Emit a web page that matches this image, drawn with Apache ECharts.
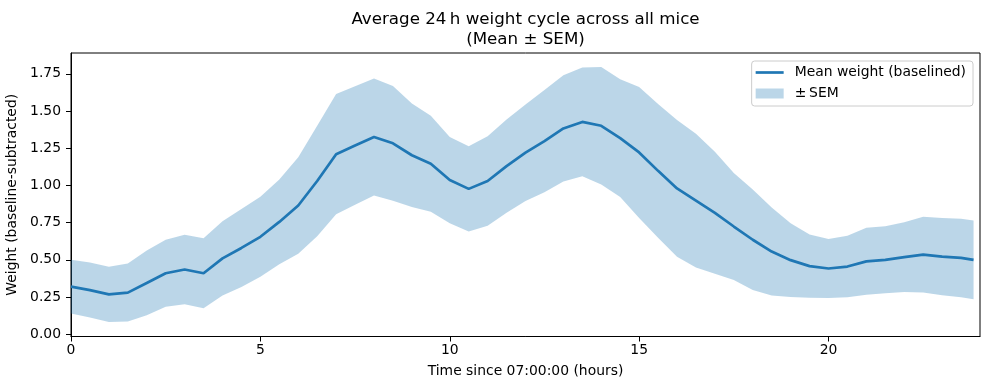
<!DOCTYPE html>
<html>
<head>
<meta charset="utf-8">
<script src="https://cdn.jsdelivr.net/npm/echarts@6/dist/echarts.min.js"></script>
<style>
html,body{margin:0;padding:0;background:#fff;}
#chart{width:989px;height:390px;}
</style>
</head>
<body>
<div id="chart"></div>
<script>
// Hours since 07:00:00
var hours = [0,0.5,1,1.5,2,2.5,3,3.5,4,4.5,5,5.5,6,6.5,7,7.5,8,8.5,9,9.5,10,10.5,11,11.5,12,12.5,13,13.5,14,14.5,15,15.5,16,16.5,17,17.5,18,18.5,19,19.5,20,20.5,21,21.5,22,22.5,23,23.5,23.83];
// Mean weight (baselined)
var meanWeight = [0.32,0.297,0.268,0.28,0.345,0.41,0.435,0.41,0.51,0.58,0.655,0.755,0.865,1.03,1.21,1.268,1.325,1.283,1.203,1.146,1.036,0.977,1.03,1.13,1.22,1.298,1.383,1.427,1.401,1.318,1.222,1.098,0.98,0.898,0.816,0.724,0.635,0.556,0.498,0.458,0.442,0.455,0.49,0.50,0.518,0.535,0.522,0.513,0.50];
// Standard error of the mean
var semWeight = [0.18,0.185,0.185,0.195,0.218,0.225,0.233,0.235,0.25,0.262,0.269,0.285,0.324,0.371,0.404,0.398,0.393,0.385,0.347,0.323,0.29,0.287,0.30,0.313,0.324,0.344,0.357,0.365,0.395,0.396,0.44,0.449,0.459,0.449,0.41,0.359,0.337,0.296,0.248,0.212,0.198,0.207,0.225,0.225,0.234,0.254,0.259,0.264,0.265];
var xTicks = [0,5,10,15,20];
var yTicks = [0,0.25,0.5,0.75,1.0,1.25,1.5,1.75];

var FONT = 'DejaVu Sans';
var BAND = 'rgba(31,119,180,0.3)';
var LINE = '#1f77b4';
var bandData = hours.map(function(h,i){return [h, meanWeight[i]-semWeight[i], meanWeight[i]+semWeight[i]];});
var meanData = hours.map(function(h,i){return [h, meanWeight[i]];});

var chart = echarts.init(document.getElementById('chart'), null, {renderer:'canvas'});
chart.setOption({
  animation:false,
  backgroundColor:'#fff',
  title:{
    text:'Average 24\u2009h weight cycle across all mice\n(Mean \u00b1 SEM)',
    left:525.5, top:10, padding:0, textAlign:'center',
    textStyle:{fontFamily:FONT, fontSize:16.7, fontWeight:'normal', color:'#000', lineHeight:20}
  },
  legend:{
    right:16, top:61, orient:'vertical',
    padding:[3,7,4,4],
    itemGap:4, itemWidth:28, itemHeight:10,
    backgroundColor:'rgba(255,255,255,0.8)',
    borderColor:'#cccccc', borderWidth:1, borderRadius:3,
    textStyle:{fontFamily:FONT, fontSize:13.9, color:'#000', lineHeight:17, padding:[0,0,0,6]},
    data:[
      {name:'Mean weight (baselined)', icon:'path://M0,0h28v2.7h-28z', itemStyle:{color:LINE, borderWidth:0}},
      {name:'\u00b1\u2009SEM', icon:'rect', itemStyle:{color:BAND, borderWidth:0}}
    ]
  },
  grid:{left:71, right:9, top:53, bottom:53.5, show:true, borderColor:'#000', borderWidth:1,
    backgroundColor:'transparent', outerBoundsMode:'none', containLabel:false},
  xAxis:{
    type:'value', min:0, max:24,
    name:'Time since 07:00:00 (hours)', nameLocation:'middle', nameGap:28,
    nameTextStyle:{fontFamily:FONT, fontSize:13.9, color:'#000'},
    axisLine:{show:true, onZero:false, lineStyle:{color:'#000', width:1}},
    axisTick:{show:true, length:5, lineStyle:{color:'#000'}, customValues:xTicks},
    axisLabel:{fontFamily:FONT, fontSize:13.9, color:'#000', margin:7, customValues:xTicks},
    splitLine:{show:false}
  },
  yAxis:{
    type:'value', min:-0.015, max:1.89,
    name:'Weight (baseline-subtracted)', nameLocation:'middle', nameRotate:90, nameGap:44,
    nameTextStyle:{fontFamily:FONT, fontSize:13.9, color:'#000'},
    axisLine:{show:true, onZero:false, lineStyle:{color:'#000', width:1}},
    axisTick:{show:true, length:5, lineStyle:{color:'#000'}, customValues:yTicks},
    axisLabel:{fontFamily:FONT, fontSize:13.9, color:'#000', margin:10, customValues:yTicks,
      formatter:function(v){return v.toFixed(2);}},
    splitLine:{show:false}
  },
  series:[
    {
      name:'\u00b1\u2009SEM', type:'custom', data:bandData, z:1,
      itemStyle:{color:BAND},
      encode:{x:0, y:[1,2]},
      renderItem:function(params, api){
        if (params.dataIndex !== 0) return null;
        var pts = [];
        var i;
        for (i = 0; i < bandData.length; i++) pts.push(api.coord([bandData[i][0], bandData[i][2]]));
        for (i = bandData.length - 1; i >= 0; i--) pts.push(api.coord([bandData[i][0], bandData[i][1]]));
        return {type:'polygon', shape:{points:pts}, style:{fill:BAND, stroke:null}};
      }
    },
    {
      name:'Mean weight (baselined)', type:'line', data:meanData, symbol:'none',
      lineStyle:{color:LINE, width:2.7},
      itemStyle:{color:LINE}, z:3
    }
  ]
});
</script>
</body>
</html>
